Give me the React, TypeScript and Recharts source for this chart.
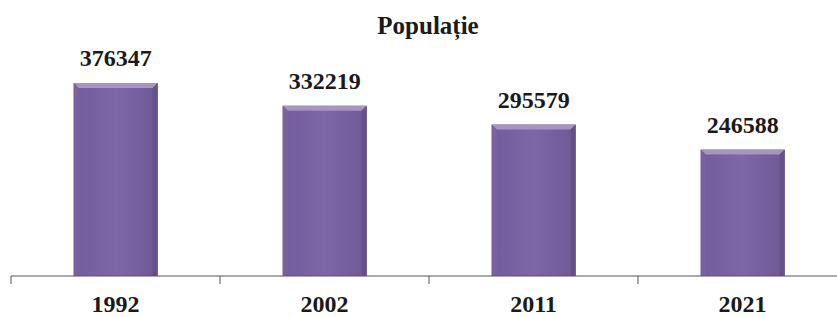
import { BarChart, Bar, XAxis, YAxis, LabelList } from "recharts";

const years = ["1992", "2002", "2011", "2021"];
const population = [376347, 332219, 295579, 246588];

const data = years.map((year, i) => ({ year, population: population[i] }));

const CHART_W = 850;
const MARGIN = { top: 71, right: 3, left: 11, bottom: 0 };
const HALF_BAND = (CHART_W - MARGIN.left - MARGIN.right) / years.length / 2;
const FONT = "'Liberation Serif', 'Times New Roman', serif";

// bevelled purple column, like the old office 3d-ish look
const BevelBar = (props: any) => {
    const { x, y, width, height } = props;
    if (height <= 0) return null;
    const b = 5;
    return (
        <g>
            <rect x={x} y={y} width={width} height={height} fill="url(#barFill)" />
            <polygon
                points={`${x},${y} ${x + width},${y} ${x + width - b},${y + b} ${x + b},${y + b}`}
                fill="#a595c4"
            />
            <polygon
                points={`${x},${y} ${x + b},${y + b} ${x + b},${y + height} ${x},${y + height}`}
                fill="#7862a0"
            />
            <polygon
                points={`${x + width},${y} ${x + width - b},${y + b} ${x + width - b},${y + height} ${x + width},${y + height}`}
                fill="#655087"
            />
        </g>
    );
};

const YearTick = (props: any) => {
    const { x, y, payload } = props;
    const bx = x - HALF_BAND;
    return (
        <g>
            <line x1={bx} y1={y} x2={bx} y2={y + 8} stroke="#555" strokeWidth={1} />
            <text
                x={x}
                y={y + 36}
                textAnchor="middle"
                fill="#1a1a1a"
                fontSize={24}
                fontWeight="bold"
                fontFamily={FONT}
            >
                {payload.value}
            </text>
        </g>
    );
};

export default function App() {
    return (
        <div style={{ position: "fixed", top: 0, left: 0, width: 837, height: 317, overflow: "hidden", background: "#fff" }}>
            <div
                style={{
                    position: "absolute",
                    top: 12,
                    left: 0,
                    width: 856,
                    textAlign: "center",
                    fontFamily: FONT,
                    fontWeight: "bold",
                    fontSize: 25,
                    color: "#1a1a1a",
                }}
            >
                Populație
            </div>
            <BarChart width={CHART_W} height={317} data={data} margin={MARGIN} barCategoryGap="30%">
                <defs>
                    <linearGradient id="barFill" x1="0" y1="0" x2="1" y2="0">
                        <stop offset="0%" stopColor="#735c9a" />
                        <stop offset="50%" stopColor="#7e67a7" />
                        <stop offset="100%" stopColor="#6f5895" />
                    </linearGradient>
                </defs>
                <XAxis
                    dataKey="year"
                    height={41}
                    tickSize={0}
                    tickLine={false}
                    tickMargin={0}
                    axisLine={{ stroke: "#555", strokeWidth: 1.2 }}
                    tick={<YearTick />}
                    interval={0}
                />
                <YAxis hide domain={[0, 400000]} />
                <Bar dataKey="population" shape={<BevelBar />} isAnimationActive={false}>
                    <LabelList
                        dataKey="population"
                        position="top"
                        offset={17}
                        fill="#1a1a1a"
                        fontSize={24}
                        fontWeight="bold"
                        fontFamily={FONT}
                    />
                </Bar>
            </BarChart>
        </div>
    );
}
